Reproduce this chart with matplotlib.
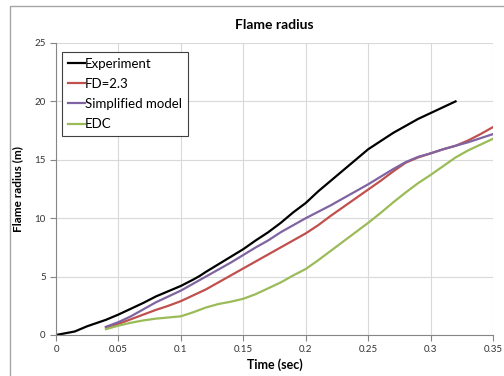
import numpy as np
import matplotlib.pyplot as plt
from matplotlib.patches import Rectangle

plt.rcParams['font.family'] = ['Lato', 'DejaVu Sans']

# data
t_exp = [0, 0.005, 0.015, 0.025, 0.04, 0.05, 0.06, 0.07, 0.08, 0.09, 0.1, 0.11, 0.115,
         0.12, 0.13, 0.14, 0.15, 0.16, 0.17, 0.18, 0.19, 0.2, 0.21, 0.22, 0.23, 0.24,
         0.25, 0.26, 0.27, 0.28, 0.29, 0.3, 0.31, 0.32]
r_exp = [0, 0.1, 0.3, 0.75, 1.3, 1.75, 2.25, 2.75, 3.3, 3.75, 4.2, 4.75, 5.05,
         5.4, 6.05, 6.7, 7.35, 8.1, 8.8, 9.6, 10.5, 11.3, 12.3, 13.2, 14.1, 15.0,
         15.9, 16.6, 17.3, 17.9, 18.5, 19.0, 19.5, 20.0]

t_mod = [0.04, 0.05, 0.06, 0.07, 0.08, 0.09, 0.1, 0.11, 0.12, 0.13, 0.14, 0.15, 0.16,
         0.17, 0.18, 0.19, 0.2, 0.21, 0.22, 0.23, 0.24, 0.25, 0.26, 0.27, 0.28, 0.29,
         0.3, 0.31, 0.32, 0.33, 0.34, 0.35]
r_fd = [0.65, 0.95, 1.35, 1.75, 2.15, 2.5, 2.9, 3.4, 3.9, 4.5, 5.1, 5.7, 6.3,
        6.9, 7.5, 8.1, 8.7, 9.4, 10.2, 10.95, 11.7, 12.45, 13.2, 14.0, 14.75, 15.2,
        15.55, 15.9, 16.2, 16.65, 17.2, 17.8]
r_simple = [0.7, 1.1, 1.6, 2.2, 2.8, 3.3, 3.8, 4.4, 5.0, 5.6, 6.2, 6.85, 7.5,
            8.1, 8.8, 9.4, 10.0, 10.55, 11.1, 11.7, 12.3, 12.9, 13.55, 14.2, 14.8, 15.25,
            15.55, 15.9, 16.2, 16.5, 16.85, 17.2]
r_edc = [0.5, 0.8, 1.05, 1.25, 1.4, 1.5, 1.6, 1.95, 2.35, 2.65, 2.85, 3.1, 3.5,
         4.0, 4.5, 5.1, 5.65, 6.4, 7.2, 8.0, 8.8, 9.6, 10.45, 11.35, 12.2, 13.0,
         13.7, 14.45, 15.2, 15.8, 16.3, 16.8]

fig = plt.figure(figsize=(5.04, 3.76), dpi=100)
ax = fig.add_axes([56/504, 1-335/376, (493-56)/504, (335-43)/376])

# chart border
fig.patches.append(Rectangle((10/504, -0.05), 1.0, 1-6/376+0.05, transform=fig.transFigure,
                             fill=False, edgecolor='#a6a6a6', linewidth=1))

ax.plot(t_exp, r_exp, color='black', lw=1.6, label='Experiment')
ax.plot(t_mod, r_fd, color='#c0504d', lw=1.6, label='FD=2.3')
ax.plot(t_mod, r_simple, color='#8064a2', lw=1.6, label='Simplified model')
ax.plot(t_mod, r_edc, color='#9bbb59', lw=1.6, label='EDC')

ax.set_xlim(0, 0.35)
ax.set_ylim(0, 25)
ax.set_xticks(np.arange(0, 0.351, 0.05))
ax.set_xticklabels(['0', '0.05', '0.1', '0.15', '0.2', '0.25', '0.3', '0.35'])
ax.set_yticks([0, 5, 10, 15, 20, 25])
ax.grid(True, color='#d9d9d9', lw=0.8)
ax.set_axisbelow(True)
for s in ['top', 'right']:
    ax.spines[s].set_visible(False)
for s in ['left', 'bottom']:
    ax.spines[s].set_color('#868686')
ax.tick_params(labelsize=7, colors='#333333', length=4, width=0.8)
ax.tick_params(axis='both', color='#868686')

ax.set_xlabel('Time (sec)', fontsize=9, fontweight='bold', labelpad=3)
ax.set_ylabel('Flame radius (m)', fontsize=8.5, fontweight='bold', labelpad=8)
ax.set_title('Flame radius', fontsize=10, fontweight='bold', pad=10)

leg = ax.legend(loc='upper left', bbox_to_anchor=(0.013, 0.97), fontsize=9.5,
                handlelength=1.3, handletextpad=0.0, borderaxespad=0, labelspacing=0.62,
                borderpad=0.45, fancybox=False, framealpha=1)
leg.get_frame().set_edgecolor('#404040')
leg.get_frame().set_linewidth(0.8)

fig.savefig('out.png', dpi=100)
